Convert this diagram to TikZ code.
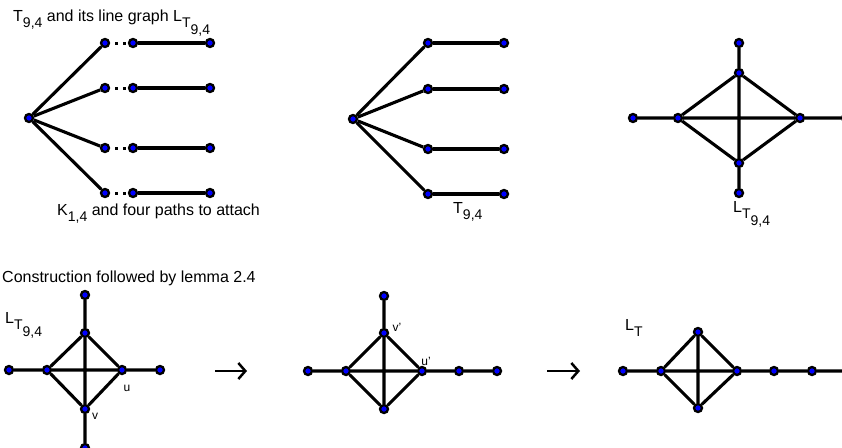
\documentclass[tikz,border=0pt]{standalone}
\usepackage{fontspec}
\setmainfont{Liberation Sans}
\usetikzlibrary{arrows.meta}
\newcommand{\lsub}[1]{\raisebox{-6.5pt}{\fontsize{14}{14}\selectfont #1}}
\begin{document}
\begin{tikzpicture}[x=1pt,y=-1pt,
  vtx/.style={circle,fill=blue,draw=black,line width=2.3pt,minimum size=8pt,inner sep=0pt},
  edge/.style={line width=3.1pt},
  dots/.style={line width=3pt,dash pattern=on 0pt off 5pt on 3pt off 5pt on 3pt off 30pt},
  lbl/.style={font=\fontsize{16}{18}\selectfont,inner sep=0pt,anchor=base west},
  small/.style={font=\fontsize{12}{13}\selectfont,inner sep=0pt},
  arr/.style={line width=2.5pt,-{Straight Barb[length=7pt,width=16pt,line width=2.5pt]}}]
\useasboundingbox (0,0) rectangle (842,447);

% ---- top-left: K_{1,4} and paths
\node[vtx] (a0) at (29,118) {};
\foreach \i/\y in {1/43,2/88,3/148,4/193} {
  \node[vtx] (a\i) at (105,\y) {};
  \node[vtx] (b\i) at (133,\y) {};
  \node[vtx] (c\i) at (210,\y) {};
  \draw[edge] (a0) -- (a\i);
  \draw[dots] (a\i) -- (b\i);
  \draw[edge] (b\i) -- (c\i);
}

% ---- top-middle: T_{9,4}
\node[vtx] (m0) at (353,119) {};
\foreach \i/\y in {1/43,2/89,3/149,4/194} {
  \node[vtx] (m\i) at (428,\y) {};
  \node[vtx] (n\i) at (504,\y) {};
  \draw[edge] (m0) -- (m\i);
  \draw[edge] (m\i) -- (n\i);
}

% ---- top-right: line graph
\node[vtx] (rt) at (739,43) {};
\node[vtx] (rvt) at (739,73) {};
\node[vtx] (rll) at (633,118) {};
\node[vtx] (rld) at (678,118) {};
\node[vtx] (rrd) at (800,118) {};
\node[vtx] (rrr) at (846,118) {};
\node[vtx] (rvb) at (739,163) {};
\node[vtx] (rbt) at (739,193) {};
\draw[edge] (rt) -- (rvt) (rvt) -- (rvb) (rvb) -- (rbt)
  (rll) -- (rld) (rld) -- (rrd) (rrd) -- (rrr)
  (rvt) -- (rld) (rvt) -- (rrd) (rvb) -- (rld) (rvb) -- (rrd);

% ---- bottom-left
\node[vtx] (pt) at (85,295) {};
\node[vtx] (pvt) at (85,333) {};
\node[vtx] (pll) at (9,370) {};
\node[vtx] (pld) at (47,370) {};
\node[vtx] (prd) at (122,370) {};
\node[vtx] (prr) at (160,370) {};
\node[vtx] (pvb) at (85,409) {};
\node[vtx] (pbt) at (85,448) {};
\draw[edge] (pt) -- (pvt) (pvt) -- (pvb) (pvb) -- (pbt)
  (pll) -- (pld) (pld) -- (prd) (prd) -- (prr)
  (pvt) -- (pld) (pvt) -- (prd) (pvb) -- (pld) (pvb) -- (prd);
\node[small] (pu) at (127,388) {u};
\node[small] (pv) at (95,416) {v};

% ---- bottom-middle
\node[vtx] (qt) at (384,296) {};
\node[vtx] (qvt) at (384,333) {};
\node[vtx] (qll) at (308,371) {};
\node[vtx] (qld) at (346,371) {};
\node[vtx] (qrd) at (422,371) {};
\node[vtx] (qr1) at (459,371) {};
\node[vtx] (qr2) at (497,371) {};
\node[vtx] (qvb) at (384,409) {};
\draw[edge] (qt) -- (qvt) (qvt) -- (qvb)
  (qll) -- (qld) (qld) -- (qrd) (qrd) -- (qr1) (qr1) -- (qr2)
  (qvt) -- (qld) (qvt) -- (qrd) (qvb) -- (qld) (qvb) -- (qrd);
\node[small] (qv) at (397,327) {v'};
\node[small] (qu) at (426,361) {u'};

% ---- bottom-right
\node[vtx] (st) at (698,332) {};
\node[vtx] (sll) at (623,371) {};
\node[vtx] (sld) at (661,371) {};
\node[vtx] (srd) at (737,371) {};
\node[vtx] (sr1) at (774,371) {};
\node[vtx] (sr2) at (812,371) {};
\coordinate (send) at (843,371);
\node[vtx] (svb) at (698,408) {};
\draw[edge] (st) -- (svb)
  (sll) -- (sld) (sld) -- (srd) (srd) -- (sr1) (sr1) -- (sr2) (sr2) -- (send)
  (st) -- (sld) (st) -- (srd) (svb) -- (sld) (svb) -- (srd);

% ---- arrows
\coordinate (a1s) at (215,371);
\coordinate (a1e) at (247,371);
\coordinate (a2s) at (547,371);
\coordinate (a2e) at (580,371);
\draw[arr] (a1s) -- (a1e);
\draw[arr] (a2s) -- (a2e);

% ---- labels
\node[lbl] (title) at (13,21) {T\lsub{9,4} and its line graph L\lsub{T\lsub{9,4}}};
\node[lbl] (klab) at (57,215) {K\lsub{1,4} and four paths to attach};
\node[lbl] (tlab) at (453,213) {T\lsub{9,4}};
\node[lbl] (llab) at (733,212) {L\lsub{T\lsub{9,4}}};
\node[lbl] (constr) at (2,282) {Construction followed by lemma 2.4};
\node[lbl] (llab2) at (5,323) {L\lsub{T\lsub{9,4}}};
\node[lbl] (ltlab) at (625,330) {L\lsub{T}};
\end{tikzpicture}
\end{document}
